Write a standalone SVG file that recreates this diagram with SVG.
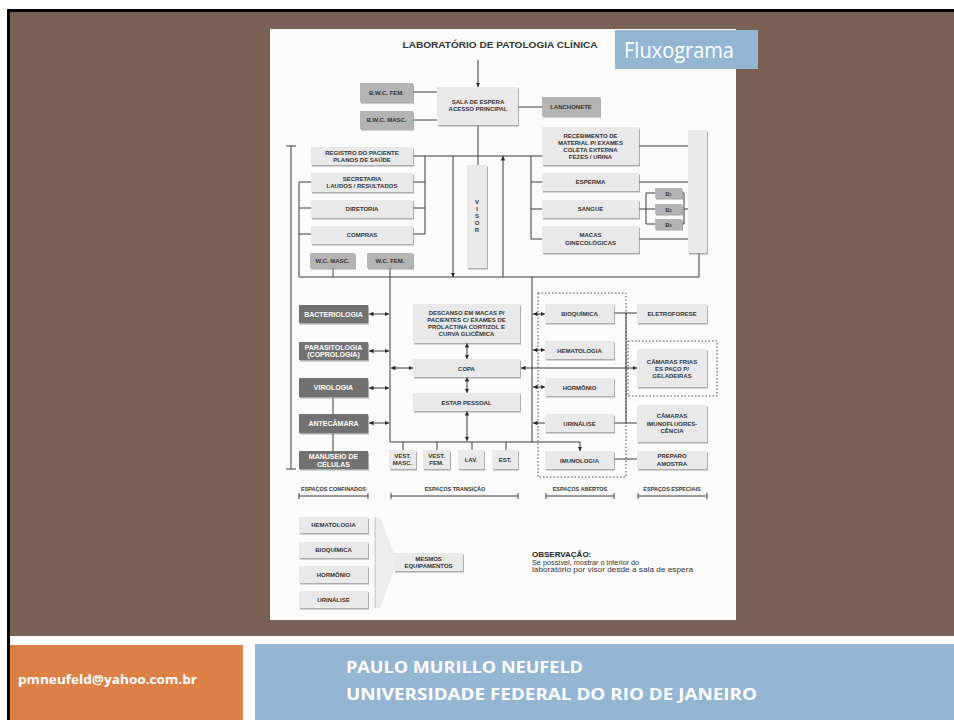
<svg xmlns="http://www.w3.org/2000/svg" width="954" height="720" viewBox="0 0 954 720">
<style>
.bx{fill:#e9e9e9;filter:url(#sh)}
.md{fill:#b4b4b4;filter:url(#sh)}
.dk{fill:#717171;filter:url(#sh)}
.t{font-family:"Liberation Sans",Arial,sans-serif;font-weight:bold;font-size:6px;fill:#333;text-anchor:middle}
.tw{font-family:"Liberation Sans",Arial,sans-serif;font-weight:bold;font-size:7px;fill:#fff;text-anchor:middle}
.ln{stroke:#3a3a3a;stroke-width:1;fill:none}
.ar{marker-end:url(#ah)}
.da{marker-start:url(#ah);marker-end:url(#ah)}
.dot{fill:none;stroke:#444;stroke-width:1;stroke-dasharray:1.5,2}
.lab{font-family:"Liberation Sans",Arial,sans-serif;font-weight:bold;font-size:5.5px;fill:#333;text-anchor:middle}
</style>
<defs>
<filter id="sh" x="-10%" y="-10%" width="130%" height="140%">
<feDropShadow dx="1" dy="1.5" stdDeviation="0.7" flood-color="#8a8a8a" flood-opacity="0.7"/>
</filter>
<marker id="ah" viewBox="0 0 6 6" refX="6" refY="3" markerWidth="4.5" markerHeight="4.5" markerUnits="userSpaceOnUse" orient="auto-start-reverse">
<path d="M0,0 L6,3 L0,6 z" fill="#2a2a2a"/>
</marker>
</defs>
<!-- slide background -->
<rect x="0" y="0" width="954" height="720" fill="#fff"/>
<rect x="10" y="12" width="944" height="624" fill="#7a6055"/>
<path d="M8.5,720 V10.5 H954" fill="none" stroke="#000" stroke-width="3"/>
<!-- diagram panel -->
<rect x="270" y="29" width="466" height="591" fill="#fbfbfb"/>
<g id="title">
<text x="500" y="48" font-family="Liberation Sans,Arial,sans-serif" font-weight="bold" font-size="9.5" fill="#333" text-anchor="middle" textLength="195" lengthAdjust="spacingAndGlyphs">LABORATÓRIO DE PATOLOGIA CLÍNICA</text>
</g>
<g id="fluxograma">
<rect x="615" y="30" width="143" height="39" fill="#94b6d3"/>
<text x="624" y="58" font-family="Open Sans,Lato,sans-serif" font-size="21" fill="#fff" textLength="110" lengthAdjust="spacingAndGlyphs">Fluxograma</text>
</g>
<!-- connectors -->
<g id="connectors">
<path class="ln ar" d="M478,60 V87"/>
<path class="ln" d="M413,92 H437 M413,120 H437 M518,107 H542 M478,125 V165"/>
<path class="ln" d="M413,156 H542 M531,156 V239 M531,182 H542 M531,209 H542 M531,239 H542"/>
<path class="ln" d="M639,146 H688 M639,182 H688 M639,239 H688 M639,209 H655 M655,193 H646 V224 H655 M682,193 H684 V224 H682 M684,209 H688 M699,253 V277"/>
<path class="ln" d="M425,156 V234 M413,182 H425 M413,208 H425 M413,234 H425"/>
<path class="ln ar" d="M453,156 V277"/>
<path class="ln ar" d="M503,277 V156"/>
<path class="ln" d="M311,182 H299 V277 M299,208 H311 M299,234 H311 M299,277 H699 M333,268 V277 M390,268 V277"/>
<path class="ln" d="M291,146 V469 M286,146 H296 M286,469 H296"/>
<path class="ln" d="M390,277 V442 H580 M532,277 V442 M403,442 V450 M437,442 V450 M472,442 V450 M506,442 V450"/>
<path class="ln ar" d="M580,442 V451"/>
<path class="ln" d="M333,397 V414 M333,433 V451"/>
<path class="ln da" d="M369,314 H389"/>
<path class="ln da" d="M369,351 H389"/>
<path class="ln da" d="M369,388 H389"/>
<path class="ln da" d="M369,423 H389"/>
<path class="ln da" d="M467,343 V359"/>
<path class="ln da" d="M467,377 V393"/>
<path class="ln da" d="M467,411 V441"/>
<path class="ln da" d="M391,368 H413"/>
<path class="ln da" d="M521,368 H637"/>
<path class="ln da" d="M533,314 H545"/>
<path class="ln da" d="M533,350 H545"/>
<path class="ln da" d="M533,387 H545"/>
<path class="ln ar" d="M545,423 H533"/>
<path class="ln" d="M614,313 H637 M626,313 V423 M614,423 H637 M614,459 H637"/>
<rect class="dot" x="538" y="293" width="88" height="184"/>
<rect class="dot" x="628" y="341" width="89" height="55"/>
<path class="ln" d="M299,496 H368 M299,493 V499 M368,493 V499 M391,496 H518 M391,493 V499 M518,493 V499 M546,496 H614 M546,493 V499 M614,493 V499 M638,496 H707 M638,493 V499 M707,493 V499"/>
</g>
<!-- nodes -->
<g id="sala"><rect class="bx" x="437" y="87" width="81" height="38"/><text class="t" x="478" y="104">SALA DE ESPERA</text><text class="t" x="478" y="111">ACESSO PRINCIPAL</text></g>
<g id="bwcfem"><rect class="md" x="360" y="83" width="53" height="19"/><text class="t" x="386.5" y="94.5">B.W.C. FEM.</text></g>
<g id="bwcmasc"><rect class="md" x="360" y="111" width="53" height="18"/><text class="t" x="386.5" y="122">B.W.C. MASC.</text></g>
<g id="lanchonete"><rect class="md" x="542" y="97" width="58" height="19"/><text class="t" x="571" y="108.5">LANCHONETE</text></g>
<g id="recebimento"><rect class="bx" x="542" y="127" width="97" height="38"/><text class="t" x="590.5" y="138">RECEBIMENTO DE</text><text class="t" x="590.5" y="145">MATERIAL P/ EXAMES</text><text class="t" x="590.5" y="152">COLETA EXTERNA</text><text class="t" x="590.5" y="159">FEZES / URINA</text></g>
<g id="colunadir"><rect class="bx" x="688" y="130" width="19" height="123"/></g>
<g id="esperma"><rect class="bx" x="542" y="173" width="97" height="18"/><text class="t" x="590.5" y="184">ESPERMA</text></g>
<g id="sangue"><rect class="bx" x="542" y="200" width="97" height="18"/><text class="t" x="590.5" y="211">SANGUE</text></g>
<g id="b1"><rect class="md" x="655" y="188" width="27" height="10"/><text class="t" x="668.5" y="195.5">B<tspan font-size="4">1</tspan></text></g>
<g id="b2"><rect class="md" x="655" y="204" width="27" height="10"/><text class="t" x="668.5" y="211.5">B<tspan font-size="4">2</tspan></text></g>
<g id="b3"><rect class="md" x="655" y="219" width="27" height="10"/><text class="t" x="668.5" y="226.5">B<tspan font-size="4">3</tspan></text></g>
<g id="macas"><rect class="bx" x="542" y="226" width="97" height="27"/><text class="t" x="590.5" y="237">MACAS</text><text class="t" x="590.5" y="245">GINECOLÓGICAS</text></g>
<g id="registro"><rect class="bx" x="311" y="147" width="102" height="18"/><text class="t" x="362" y="154.5">REGISTRO DO PACIENTE</text><text class="t" x="362" y="161.5">PLANOS DE SAÚDE</text></g>
<g id="secretaria"><rect class="bx" x="311" y="173" width="102" height="19"/><text class="t" x="362" y="180.5">SECRETARIA</text><text class="t" x="362" y="187.5">LAUDOS / RESULTADOS</text></g>
<g id="diretoria"><rect class="bx" x="311" y="200" width="102" height="18"/><text class="t" x="362" y="211">DIRETORIA</text></g>
<g id="compras"><rect class="bx" x="311" y="226" width="102" height="18"/><text class="t" x="362" y="237">COMPRAS</text></g>
<g id="wcmasc"><rect class="md" x="310" y="253" width="45" height="15"/><text class="t" x="332.5" y="262.5">W.C. MASC.</text></g>
<g id="wcfem"><rect class="md" x="367" y="253" width="46" height="15"/><text class="t" x="390" y="262.5">W.C. FEM.</text></g>
<g id="visor"><rect class="bx" x="467" y="165" width="20" height="103"/>
<text class="t" x="477" y="204">V</text><text class="t" x="477" y="211">I</text><text class="t" x="477" y="218">S</text><text class="t" x="477" y="225">O</text><text class="t" x="477" y="232">R</text></g>
<g id="bacteriologia"><rect class="dk" x="299" y="305" width="69" height="18"/><text class="tw" x="333.5" y="316.5">BACTERIOLOGIA</text></g>
<g id="parasitologia"><rect class="dk" x="299" y="342" width="69" height="18"/><text class="tw" x="333.5" y="349.5">PARASITOLOGIA</text><text class="tw" x="333.5" y="357">(COPROLOGIA)</text></g>
<g id="virologia"><rect class="dk" x="299" y="378" width="69" height="19"/><text class="tw" x="333.5" y="390">VIROLOGIA</text></g>
<g id="antecamara"><rect class="dk" x="299" y="414" width="69" height="19"/><text class="tw" x="333.5" y="426">ANTECÂMARA</text></g>
<g id="manuseio"><rect class="dk" x="299" y="451" width="69" height="18"/><text class="tw" x="333.5" y="458.5">MANUSEIO DE</text><text class="tw" x="333.5" y="466.5">CÉLULAS</text></g>
<g id="descanso"><rect class="bx" x="413" y="304" width="107" height="39"/><text class="t" x="466.5" y="315">DESCANSO EM MACAS P/</text><text class="t" x="466.5" y="322">PACIENTES C/ EXAMES DE</text><text class="t" x="466.5" y="329">PROLACTINA CORTIZOL E</text><text class="t" x="466.5" y="336">CURVA GLICÊMICA</text></g>
<g id="copa"><rect class="bx" x="413" y="359" width="107" height="18"/><text class="t" x="466.5" y="370.5">COPA</text></g>
<g id="estar"><rect class="bx" x="413" y="393" width="107" height="18"/><text class="t" x="466.5" y="404.5">ESTAR PESSOAL</text></g>
<g id="vestmasc"><rect class="bx" x="389" y="450" width="27" height="19"/><text class="t" x="402.5" y="458">VEST.</text><text class="t" x="402.5" y="465">MASC.</text></g>
<g id="vestfem"><rect class="bx" x="423" y="450" width="27" height="19"/><text class="t" x="436.5" y="458">VEST.</text><text class="t" x="436.5" y="465">FEM.</text></g>
<g id="lav"><rect class="bx" x="458" y="450" width="26" height="19"/><text class="t" x="471" y="461.5">LAV.</text></g>
<g id="est"><rect class="bx" x="492" y="450" width="26" height="19"/><text class="t" x="505" y="461.5">EST.</text></g>
<g id="bioquimica"><rect class="bx" x="545" y="304" width="69" height="19"/><text class="t" x="579.5" y="316">BIOQUÍMICA</text></g>
<g id="hematologia"><rect class="bx" x="545" y="341" width="69" height="18"/><text class="t" x="579.5" y="352.5">HEMATOLOGIA</text></g>
<g id="hormonio"><rect class="bx" x="545" y="378" width="69" height="18"/><text class="t" x="579.5" y="389.5">HORMÔNIO</text></g>
<g id="urinalise"><rect class="bx" x="545" y="414" width="69" height="18"/><text class="t" x="579.5" y="425.5">URINÁLISE</text></g>
<g id="imunologia"><rect class="bx" x="545" y="451" width="69" height="18"/><text class="t" x="579.5" y="462.5">IMUNOLOGIA</text></g>
<g id="eletroforese"><rect class="bx" x="637" y="304" width="70" height="19"/><text class="t" x="672" y="316">ELETROFORESE</text></g>
<g id="camarasfrias"><rect class="bx" x="637" y="349" width="70" height="38"/><text class="t" x="672" y="364">CÂMARAS FRIAS</text><text class="t" x="672" y="371">ES PAÇO P/</text><text class="t" x="672" y="378">GELADEIRAS</text></g>
<g id="camarasimuno"><rect class="bx" x="637" y="405" width="70" height="37"/><text class="t" x="672" y="418">CÂMARAS</text><text class="t" x="672" y="425.5">IMUNOFLUORES-</text><text class="t" x="672" y="433">CÊNCIA</text></g>
<g id="preparo"><rect class="bx" x="637" y="451" width="70" height="18"/><text class="t" x="672" y="458">PREPARO</text><text class="t" x="672" y="465.5">AMOSTRA</text></g>
<g id="labels">
<text class="lab" x="333.5" y="490.5">ESPAÇOS CONFINADOS</text>
<text class="lab" x="455" y="490.5">ESPAÇOS TRANSIÇÃO</text>
<text class="lab" x="580" y="490.5">ESPAÇOS ABERTOS</text>
<text class="lab" x="672" y="490.5">ESPAÇOS ESPECIAIS</text>
</g>
<g id="chevron"><polygon points="375,517 380,517 397,562 380,608 375,608" fill="#ececec"/><path d="M375,517 V608" stroke="#c4c4c4" stroke-width="1"/></g>
<g id="hemato2"><rect class="bx" x="299" y="517" width="69" height="16"/><text class="t" x="333.5" y="527">HEMATOLOGIA</text></g>
<g id="bioq2"><rect class="bx" x="299" y="542" width="69" height="16"/><text class="t" x="333.5" y="552">BIOQUÍMICA</text></g>
<g id="horm2"><rect class="bx" x="299" y="566" width="69" height="17"/><text class="t" x="333.5" y="576.5">HORMÔNIO</text></g>
<g id="urin2"><rect class="bx" x="299" y="591" width="69" height="17"/><text class="t" x="333.5" y="601.5">URINÁLISE</text></g>
<g id="mesmos"><rect class="bx" x="394" y="553" width="69" height="18"/><text class="t" x="428.5" y="561">MESMOS</text><text class="t" x="428.5" y="568">EQUIPAMENTOS</text></g>
<g id="observacao">
<text x="532" y="557" font-family="Liberation Sans,Arial,sans-serif" font-weight="bold" font-size="8" fill="#222">OBSERVAÇÃO:</text>
<text x="532" y="564.5" font-family="Liberation Sans,Arial,sans-serif" font-size="7.3" fill="#333">Se possível, mostrar o interior do</text>
<text x="532" y="572" font-family="Liberation Sans,Arial,sans-serif" font-size="7.3" fill="#333" textLength="161" lengthAdjust="spacingAndGlyphs">laboratório por visor desde a sala de espera</text>
</g>
<!-- footer -->
<g id="footer-email">
<rect x="10" y="645" width="233" height="75" fill="#dd8047"/>
<text x="18" y="684" font-family="Open Sans,Liberation Sans,sans-serif" font-weight="bold" font-size="12" fill="#fff" textLength="179" lengthAdjust="spacingAndGlyphs">pmneufeld@yahoo.com.br</text>
</g>
<g id="footer-author">
<rect x="255" y="644" width="699" height="76" fill="#94b6d3"/>
<text x="346" y="673" font-family="Open Sans,Liberation Sans,sans-serif" font-weight="bold" font-size="16" fill="#fff" textLength="237" lengthAdjust="spacingAndGlyphs">PAULO MURILLO NEUFELD</text>
<text x="346" y="700" font-family="Open Sans,Liberation Sans,sans-serif" font-weight="bold" font-size="16" fill="#fff" textLength="411" lengthAdjust="spacingAndGlyphs">UNIVERSIDADE FEDERAL DO RIO DE JANEIRO</text>
</g>
</svg>
